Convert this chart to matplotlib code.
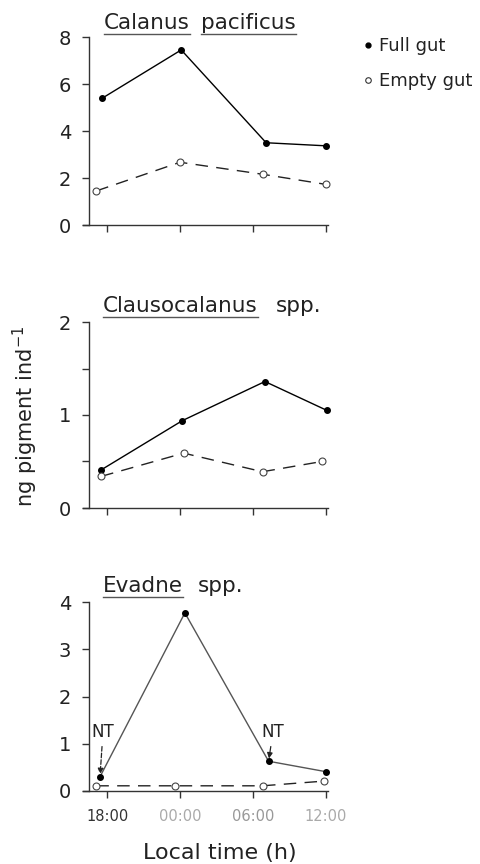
import matplotlib
matplotlib.use("Agg")
import matplotlib.pyplot as plt
from matplotlib.lines import Line2D

plt.rcParams['font.family'] = ['DejaVu Sans']

# ---------------- data ----------------
tick_hours = [18, 24, 30, 36]
tick_labels = ["18:00", "00:00", "06:00", "12:00"]

# Calanus pacificus
cal_t_full = [17.6, 24.1, 31.1, 36.0]
cal_full = [5.4, 7.45, 3.5, 3.37]
cal_t_empty = [17.1, 24.0, 30.8, 36.0]
cal_empty = [1.45, 2.67, 2.16, 1.73]

# Clausocalanus spp.
cla_t_full = [17.5, 24.2, 31.0, 36.1]
cla_full = [0.41, 0.94, 1.36, 1.05]
cla_t_empty = [17.5, 24.3, 30.8, 35.7]
cla_empty = [0.34, 0.59, 0.39, 0.50]

# Evadne spp.
eva_t_full = [17.4, 24.4, 31.3, 36.0]
eva_full = [0.30, 3.77, 0.63, 0.41]
eva_t_empty = [17.1, 23.6, 30.8, 35.9]
eva_empty = [0.11, 0.11, 0.11, 0.21]

W, H = 481, 864
fig = plt.figure(figsize=(W / 100, H / 100), dpi=100)

def fx(px):
    return px / W

def fy(py):
    return 1 - py / H

ax_left_px, ax_right_px = 83, 328
spine_px = 89
xlim = (16.0, 36.2)

panels = [
    dict(top=37, bottom=225, ylim=(0, 8), yticks=[0, 2, 4, 6, 8], minor=[],
         tf=cal_t_full, f=cal_full, te=cal_t_empty, e=cal_empty, fc='k', labels=False),
    dict(top=322, bottom=508, ylim=(0, 2), yticks=[0, 1, 2], minor=[0.5, 1.5],
         tf=cla_t_full, f=cla_full, te=cla_t_empty, e=cla_empty, fc='k', labels=False),
    dict(top=602, bottom=791, ylim=(0, 4), yticks=[0, 1, 2, 3, 4], minor=[],
         tf=eva_t_full, f=eva_full, te=eva_t_empty, e=eva_empty, fc='#555555', labels=True),
]

axes = []
for p in panels:
    ax = fig.add_axes([fx(ax_left_px), fy(p['bottom']),
                       (ax_right_px - ax_left_px) / W, (p['bottom'] - p['top']) / H])
    ax.set_xlim(*xlim)
    ax.set_ylim(*p['ylim'])
    for s in ['top', 'right']:
        ax.spines[s].set_visible(False)
    ax.spines['left'].set_position(('axes', (spine_px - ax_left_px) / (ax_right_px - ax_left_px)))
    for s in ['left', 'bottom']:
        ax.spines[s].set_color('#333333')
        ax.spines[s].set_linewidth(1.0)
    ax.set_xticks(tick_hours)
    if p['labels']:
        ax.set_xticklabels(tick_labels, fontsize=10.5)
        cols = ['#333333', '#aaaaaa', '#999999', '#aaaaaa']
        for lab, c in zip(ax.get_xticklabels(), cols):
            lab.set_color(c)
    else:
        ax.set_xticklabels([])
    ax.set_yticks(p['yticks'])
    ax.set_yticklabels([str(v) for v in p['yticks']], fontsize=14, color='#222222')
    if p['minor']:
        ax.set_yticks(p['minor'], minor=True)
    ax.tick_params(axis='both', which='both', direction='out', length=5, width=1,
                   color='#333333')
    ax.tick_params(axis='y', pad=8)
    ax.tick_params(axis='x', pad=8)
    ax.patch.set_visible(False)

    ax.plot(p['tf'], p['f'], '-', color=p['fc'], lw=1.0, marker='o', ms=4,
            mfc='k', mec='k', clip_on=False, zorder=3)
    ax.plot(p['te'], p['e'], '--', color='#222222', lw=1.0, dashes=(9, 6),
            marker='o', ms=5, mfc='white', mec='#444444', mew=0.8, clip_on=False, zorder=3)
    axes.append(ax)

# NT annotations on Evadne panel
ax3 = axes[2]
ax3.annotate('NT', xy=(eva_t_full[0], eva_full[0]), xytext=(fx(103), fy(732)),
             textcoords='figure fraction', ha='center', va='center', fontsize=12,
             color='#222222',
             arrowprops=dict(arrowstyle='-|>', color='#222222', lw=0.9, ls='--',
                             mutation_scale=8, shrinkA=2, shrinkB=2))
ax3.annotate('NT', xy=(eva_t_full[2], eva_full[2]), xytext=(fx(273), fy(732)),
             textcoords='figure fraction', ha='center', va='center', fontsize=12,
             color='#222222',
             arrowprops=dict(arrowstyle='-|>', color='#222222', lw=0.9,
                             mutation_scale=8, shrinkA=2, shrinkB=2))

# Titles with underlined parts
fig.canvas.draw()
renderer = fig.canvas.get_renderer()

def title(x_px, base_px, parts, size=15.5):
    x = x_px
    for text, ul, gap in parts:
        t = fig.text(fx(x), fy(base_px), text, fontsize=size, ha='left',
                     va='baseline', color='#222222')
        bb = t.get_window_extent(renderer)
        w = bb.width
        if ul:
            fig.add_artist(Line2D([fx(x), fx(x + w)], [fy(base_px + 5)] * 2,
                                  transform=fig.transFigure, color='#555555', lw=1.0))
        x = x + w + gap

title(104, 29, [("Calanus", True, 11), ("pacificus", True, 0)])
title(103, 312, [("Clausocalanus", True, 18), ("spp.", False, 0)])
title(103, 592, [("Evadne", True, 15), ("spp.", False, 0)])

# Legend
fig.add_artist(Line2D([fx(368)], [fy(45)], transform=fig.transFigure, marker='o',
                      ms=3.5, color='k', ls='none'))
fig.text(fx(379), fy(51), "Full gut", fontsize=13, va='baseline', ha='left', color='#222222')
fig.add_artist(Line2D([fx(368)], [fy(80)], transform=fig.transFigure, marker='o',
                      ms=4, mfc='white', mec='#333333', mew=0.8, ls='none'))
fig.text(fx(379), fy(86), "Empty gut", fontsize=13, va='baseline', ha='left', color='#222222')

# Axis labels
fig.text(fx(25), fy(416), "ng pigment ind$^{-1}$", rotation=90, fontsize=15,
         ha='center', va='center', color='#222222')
fig.text(fx(220), fy(853), "Local time (h)", fontsize=16, ha='center', va='center',
         color='#222222')

fig.savefig("out.png", dpi=100)
